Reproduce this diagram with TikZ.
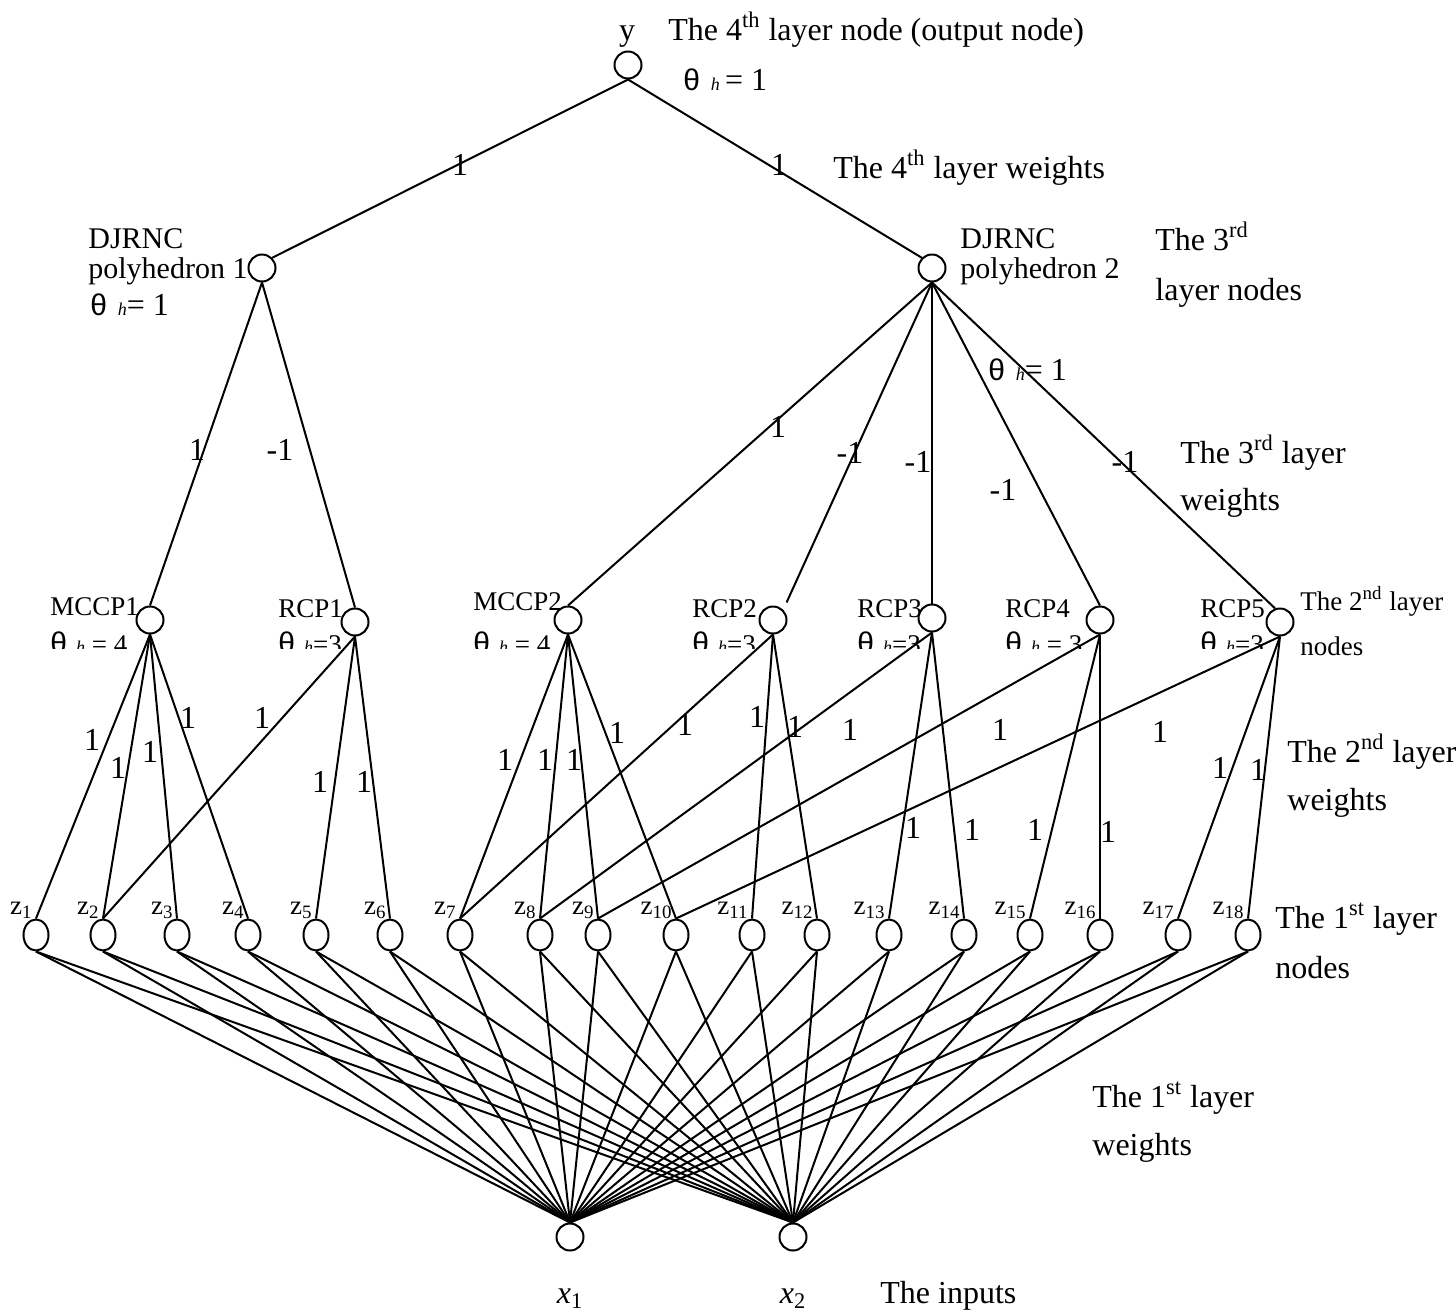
\documentclass[tikz,border=0pt]{standalone}
\usepackage{fontspec}
\setmainfont{Liberation Serif}
\newfontfamily\thetafont{Liberation Sans}
\usetikzlibrary{shapes.geometric}

\tikzset{
  neuron/.style={circle, draw, line width=1pt, minimum size=13.5pt, inner sep=0pt},
  zneuron/.style={ellipse, draw, line width=1pt, minimum width=12.5pt, minimum height=15.5pt, inner sep=0pt},
  link/.style={line width=1pt},
  bigtxt/.style={font=\fontsize{16}{18}\selectfont, inner sep=0pt, anchor=base west},
  midtxt/.style={font=\fontsize{15}{17}\selectfont, inner sep=0pt, anchor=base west},
  smalltxt/.style={font=\fontsize{13.5}{15}\selectfont, inner sep=0pt, anchor=base west},
  wtxt/.style={font=\fontsize{16}{18}\selectfont, inner sep=0pt},
  zlbl/.style={font=\fontsize{13.5}{15}\selectfont, inner sep=0pt, anchor=base east},
}
% threshold labels
\newcommand{\thr}[1]{{\fontsize{15}{17}\thetafont θ}\,\,{\fontsize{9}{10}\selectfont\itshape h}#1}

\begin{document}
\begin{tikzpicture}[x=0.5pt, y=-0.5pt]
\useasboundingbox (0,0) rectangle (1456,1312);

% ---------- nodes ----------
\node[neuron] (y) at (628,65) {};
\node[neuron] (d1) at (262,268) {};
\node[neuron] (d2) at (932,268) {};

\node[neuron] (m1) at (150,620) {};
\node[neuron] (r1) at (355,622) {};
\node[neuron] (m2) at (568,620) {};
\node[neuron] (r2) at (773,620) {};
\node[neuron] (r3) at (932,618) {};
\node[neuron] (r4) at (1100,620) {};
\node[neuron] (r5) at (1280,622) {};

\foreach \i/\xx in {1/36,2/103,3/177,4/248,5/316,6/390,7/460,8/540,9/598,
                    10/676,11/752,12/817,13/889,14/964,15/1030,16/1100,17/1178,18/1248}{
  \node[zneuron] (z\i) at (\xx,935) {};
  \node[zlbl] at ([xshift=-1.5pt,yshift=2pt]z\i.north) {z\textsubscript{\i}};
}

\node[neuron] (x1) at (570,1237) {};
\node[neuron] (x2) at (793,1237) {};

% ---------- connectors ----------
\draw[link] (y.south) -- (d1.north east);
\draw[link] (y.south) -- (d2.north west);

\draw[link] (d1.south) -- (m1.north);
\draw[link] (d1.south) -- (r1.north);

\draw[link] (d2.south) -- (m2.north);
\draw[link, shorten >=4pt] (d2.south) -- (r2.north east);
\draw[link] (d2.south) -- (r3.north);
\draw[link] (d2.south) -- (r4.north);
\draw[link] (d2.south) -- (r5.110);

\foreach \k in {1,2,3,4}{\draw[link] (m1.south) -- (z\k.north);}
\foreach \k in {2,5,6}{\draw[link] (r1.south) -- (z\k.north);}
\foreach \k in {7,8,9,10}{\draw[link] (m2.south) -- (z\k.north);}
\foreach \k in {7,11,12}{\draw[link] (r2.south) -- (z\k.north);}
\foreach \k in {8,13,14}{\draw[link] (r3.south) -- (z\k.north);}
\foreach \k in {9,15,16}{\draw[link] (r4.south) -- (z\k.north);}
\foreach \k in {10,17,18}{\draw[link] (r5.south) -- (z\k.north);}

\foreach \k in {1,...,18}{
  \draw[link] (z\k.south) -- (x1.north);
  \draw[link] (z\k.south) -- (x2.north);
}

% ---------- weights ----------
\node[wtxt] at (460,165) {1};
\node[wtxt] at (779,165) {1};

\node[wtxt] at (197,450) {1};
\node[wtxt] at (280,450) {-1};
\node[wtxt] at (778,427) {1};
\node[wtxt] at (850,453) {-1};
\node[wtxt] at (918,462) {-1};
\node[wtxt] at (1003,490) {-1};
\node[wtxt] at (1125,462) {-1};

\node[wtxt] at (92,740) {1};
\node[wtxt] at (118,768) {1};
\node[wtxt] at (150,752) {1};
\node[wtxt] at (188,718) {1};
\node[wtxt] at (262,718) {1};
\node[wtxt] at (320,782) {1};
\node[wtxt] at (364,782) {1};
\node[wtxt] at (505,760) {1};
\node[wtxt] at (545,760) {1};
\node[wtxt] at (574,760) {1};
\node[wtxt] at (617,733) {1};
\node[wtxt] at (685,725) {1};
\node[wtxt] at (757,717) {1};
\node[wtxt] at (795,727) {1};
\node[wtxt] at (850,730) {1};
\node[wtxt] at (913,828) {1};
\node[wtxt] at (972,830) {1};
\node[wtxt] at (1000,730) {1};
\node[wtxt] at (1035,830) {1};
\node[wtxt] at (1108,832) {1};
\node[wtxt] at (1160,732) {1};
\node[wtxt] at (1220,768) {1};
\node[wtxt] at (1258,770) {1};

% ---------- node texts ----------
\node[bigtxt, anchor=base] at (627,40) {y};
\node[bigtxt] at (668,40) {The 4\textsuperscript{th} layer node (output node)};
\node[bigtxt] at (683,90) {\thr{\,= 1}};

\node[midtxt] at (88,248) {DJRNC};
\node[midtxt] at (88,278) {polyhedron 1};
\node[bigtxt] at (90,315) {\thr{= 1}};

\node[midtxt] at (960,248) {DJRNC};
\node[midtxt] at (960,278) {polyhedron 2};
\node[bigtxt] at (988,380) {\thr{= 1}};

\node[smalltxt] at (50,615) {MCCP1};
\node[smalltxt] at (278,617) {RCP1};
\node[smalltxt] at (473,610) {MCCP2};
\node[smalltxt] at (692,617) {RCP2};
\node[smalltxt] at (857,617) {RCP3};
\node[smalltxt] at (1005,617) {RCP4};
\node[smalltxt] at (1200,617) {RCP5};

% thresholds of the second layer, cut off below
\begin{scope}
  \clip (0,620) rectangle (1456,648);
  \node[smalltxt] at (50,653) {\thr{ = 4}};
  \node[smalltxt] at (278,653) {\thr{=3}};
  \node[smalltxt] at (473,653) {\thr{ = 4}};
  \node[smalltxt] at (692,653) {\thr{=3}};
  \node[smalltxt] at (857,653) {\thr{=3}};
  \node[smalltxt] at (1005,653) {\thr{ = 3}};
  \node[smalltxt] at (1200,653) {\thr{=3}};
\end{scope}

\node[bigtxt, anchor=base] at (570,1303) {\textit{x}\textsubscript{1}};
\node[bigtxt, anchor=base] at (793,1303) {\textit{x}\textsubscript{2}};

% ---------- layer captions ----------
\node[bigtxt] at (833,178) {The 4\textsuperscript{th} layer weights};
\node[bigtxt] at (1155,250) {The 3\textsuperscript{rd}};
\node[bigtxt] at (1155,300) {layer nodes};
\node[bigtxt] at (1180,463) {The 3\textsuperscript{rd} layer};
\node[bigtxt] at (1180,510) {weights};
\node[smalltxt] at (1300,610) {The 2\textsuperscript{nd} layer};
\node[smalltxt] at (1300,655) {nodes};
\node[bigtxt] at (1287,762) {The 2\textsuperscript{nd} layer};
\node[bigtxt] at (1287,810) {weights};
\node[bigtxt] at (1275,928) {The 1\textsuperscript{st} layer};
\node[bigtxt] at (1275,978) {nodes};
\node[bigtxt] at (1092,1107) {The 1\textsuperscript{st} layer};
\node[bigtxt] at (1092,1155) {weights};
\node[bigtxt] at (880,1303) {The inputs};
\end{tikzpicture}
\end{document}
